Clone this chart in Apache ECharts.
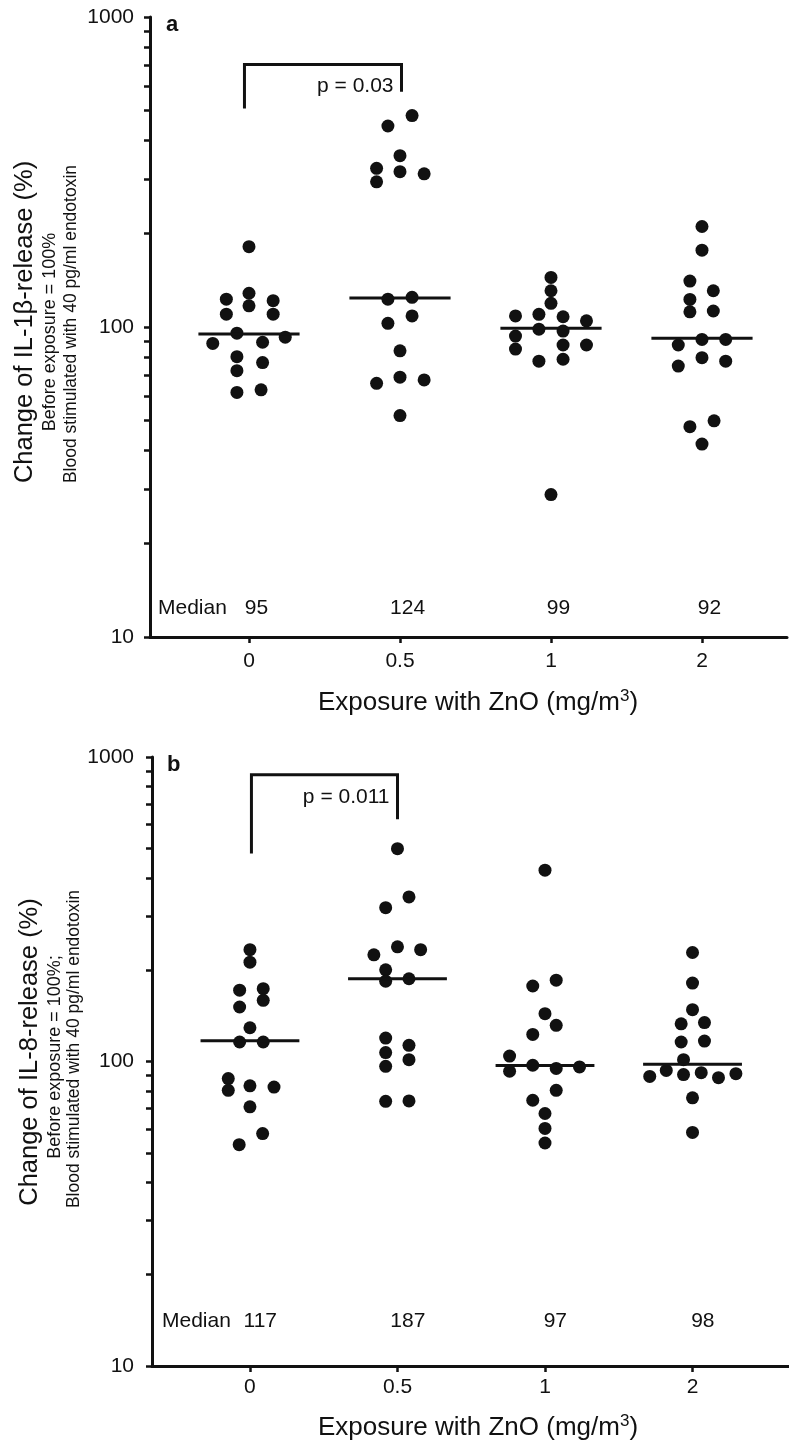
<!DOCTYPE html>
<html>
<head>
<meta charset="utf-8">
<script src="https://cdn.jsdelivr.net/npm/echarts@6/dist/echarts.min.js"></script>
<style>
html,body{margin:0;padding:0;background:#fff;}
#c{width:789px;height:1447px;}
</style>
</head>
<body>
<div id="c"></div>
<script>
// ---------- DATA ----------
const categories = ['0', '0.5', '1', '2'];           // ZnO exposure (mg/m3)
const yTickLabels = [10, 100, 1000];
const yMinorTicks = [10, 20, 30, 40, 50, 60, 70, 80, 90, 100, 200, 300, 400, 500, 600, 700, 800, 900, 1000];

// Panel a: IL-1beta release (%), one array per exposure group
const il1bValues = [
  [181.6, 123, 110, 128.5, 117, 121.6, 110, 88.5, 95.5, 89.3, 92.7, 80.2, 76.8, 72.3, 61.5, 62.7],
  [445, 481, 325, 294, 357, 317, 312, 123, 124.7, 102.8, 108.6, 83.8, 65.8, 68.9, 67.5, 51.8],
  [144.5, 130.9, 119.2, 108.6, 109.9, 107.9, 104.7, 93.5, 98.4, 97, 84.9, 87.5, 87.5, 77.6, 78.7, 28.8],
  [211, 177, 140.6, 130.9, 122.7, 111.9, 112.6, 87.5, 91.2, 91.2, 74.8, 79.6, 77.6, 47.7, 49.8, 41.9]
];
// horizontal jitter of each dot (in category units)
const il1bJitter = [
  [0, -0.15, -0.15, 0, 0, 0.16, 0.16, -0.24, -0.08, 0.09, 0.24, -0.08, 0.09, -0.08, -0.08, 0.08],
  [-0.08, 0.08, -0.155, -0.155, 0, 0, 0.16, -0.08, 0.08, -0.08, 0.08, 0, -0.155, 0, 0.16, 0],
  [0, 0, 0, -0.235, -0.08, 0.08, 0.235, -0.235, -0.08, 0.08, -0.235, 0.08, 0.235, -0.08, 0.08, 0],
  [0, 0, -0.08, 0.075, -0.08, -0.08, 0.075, -0.157, 0, 0.157, -0.157, 0, 0.157, -0.08, 0.08, 0]
];
const il1bMedians = [95, 124, 99, 92];
const il1bBracket = [-0.03, 1.01, 703, 507, 574];   // [fromX, toX, top, leftEnd, rightEnd]
const il1bP = 'p = 0.03';

// Panel b: IL-8 release (%)
const il8Values = [
  [233, 212, 171.5, 173.4, 158.8, 151, 129.1, 115.9, 115.9, 87.9, 80.4, 83.2, 82.4, 71, 58, 53.3],
  [500, 347, 320, 224, 238, 233, 200, 183.6, 187, 119.4, 113, 107, 101.4, 96.4, 74, 74.2],
  [425, 177, 185, 143.6, 131.5, 122.7, 104.2, 92.9, 97.2, 94.9, 96, 80.4, 74.6, 67.5, 60.3, 54],
  [228, 181, 148, 133, 134.2, 115.9, 116.7, 101.4, 89.3, 93.5, 90.6, 91.9, 88.5, 91.2, 76, 58.5]
];
const il8Jitter = [
  [0, 0, -0.07, 0.09, 0.09, -0.07, 0, -0.07, 0.09, -0.147, -0.147, 0, 0.163, 0, 0.086, -0.073],
  [0, 0.078, -0.08, -0.16, 0, 0.157, -0.08, -0.08, 0.078, -0.08, 0.078, -0.08, 0.078, -0.08, -0.08, 0.078],
  [0, -0.083, 0.076, 0, 0.076, -0.083, -0.24, -0.24, -0.083, 0.076, 0.234, 0.076, -0.083, 0, 0, 0],
  [0, 0, 0, -0.077, 0.081, -0.077, 0.081, -0.061, -0.29, -0.178, -0.061, 0.059, 0.176, 0.294, 0, 0]
];
const il8Medians = [117, 187, 97, 98];
const il8Bracket = [0.01, 1.0, 875, 482, 624];
const il8P = 'p = 0.011';

// ---------- LAYOUT / STYLE ----------
const FONT = '"Liberation Sans", Arial, Helvetica, sans-serif';
const INK = '#111111';
const MEDIAN_HALF = 0.335;

const panels = [
  { values: il1bValues, jitter: il1bJitter, medians: il1bMedians, bracket: il1bBracket, p: il1bP,
    grid: { left: 150, top: 17, width: 637, height: 620 }, xMin: -0.6556, xMax: 3.563,
    xLabelMargin: 14, yLabelMargin: 16, medianLabelY: 12.4, medianLabelDx: 0.05, pLabelY: 596 },
  { values: il8Values, jitter: il8Jitter, medians: il8Medians, bracket: il8Bracket, p: il8P,
    grid: { left: 152, top: 757, width: 637, height: 609 }, xMin: -0.664, xMax: 3.654,
    xLabelMargin: 11, yLabelMargin: 18, medianLabelY: 14.05, medianLabelDx: 0.07, pLabelY: 740 }
];

const textStyle = { fontSize: 21, color: INK, fontFamily: FONT, opacity: 1 };
const grids = [], xAxes = [], yAxes = [], series = [];
panels.forEach((P, i) => {
  grids.push(Object.assign({ containLabel: false }, P.grid));
  xAxes.push({
    type: 'value', gridIndex: i, min: P.xMin, max: P.xMax,
    splitLine: { show: false },
    axisLine: { show: true, onZero: false, lineStyle: { color: INK, width: 3 } },
    axisTick: { show: true, customValues: [0, 1, 2, 3], length: 6, lineStyle: { color: INK, width: 2.5 } },
    axisLabel: Object.assign({ show: true, customValues: [0, 1, 2, 3], margin: P.xLabelMargin,
      formatter: v => categories[Math.round(v)] }, textStyle)
  });
  yAxes.push({
    type: 'log', logBase: 10, gridIndex: i, min: 10, max: 1000,
    splitLine: { show: false },
    axisLine: { show: true, onZero: false, lineStyle: { color: INK, width: 3 } },
    axisTick: { show: true, customValues: yMinorTicks, length: 6, lineStyle: { color: INK, width: 2.5 } },
    axisLabel: Object.assign({ show: true, customValues: yTickLabels, margin: P.yLabelMargin,
      formatter: v => String(Math.round(v)) }, textStyle)
  });

  // dots
  const pts = [];
  P.values.forEach((arr, g) => arr.forEach((v, k) => pts.push([g + P.jitter[g][k], v])));
  series.push({
    type: 'scatter', xAxisIndex: i, yAxisIndex: i, data: pts,
    symbol: 'circle', symbolSize: 13, itemStyle: { color: INK, opacity: 1 }, z: 3
  });

  // median lines
  P.medians.forEach((m, g) => {
    series.push({
      type: 'line', xAxisIndex: i, yAxisIndex: i, symbol: 'none',
      data: [[g - MEDIAN_HALF, m], [g + MEDIAN_HALF, m]],
      lineStyle: { color: INK, width: 3, opacity: 1 }, z: 4
    });
  });

  // median labels
  series.push({
    type: 'scatter', xAxisIndex: i, yAxisIndex: i, symbolSize: 0,
    itemStyle: { opacity: 1 },
    data: P.medians.map((m, g) => ({ value: [g + P.medianLabelDx, P.medianLabelY], name: String(m) })),
    label: Object.assign({ show: true, position: 'inside', formatter: p => p.name }, textStyle),
    z: 5
  });

  // significance bracket
  const B = P.bracket;
  series.push({
    type: 'line', xAxisIndex: i, yAxisIndex: i, symbol: 'none',
    data: [[B[0], B[3]], [B[0], B[2]], [B[1], B[2]], [B[1], B[4]]],
    lineStyle: { color: INK, width: 3, join: 'miter', opacity: 1 }, z: 4
  });
  series.push({
    type: 'scatter', xAxisIndex: i, yAxisIndex: i, symbolSize: 0,
    itemStyle: { opacity: 1 },
    data: [{ value: [B[1], P.pLabelY], name: P.p }],
    label: Object.assign({ show: true, position: 'left', distance: 8, formatter: p => p.name }, textStyle),
    z: 5
  });
});

function txt(text, x, y, size, opts) {
  opts = opts || {};
  return {
    type: 'text', x: x, y: y, rotation: opts.rot || 0, z: 10,
    style: Object.assign({
      text: text, fontSize: size, fontFamily: FONT, fill: INK,
      fontWeight: opts.bold ? 'bold' : 'normal',
      align: opts.align || 'center', verticalAlign: 'middle',
      textAlign: opts.align || 'center', textVerticalAlign: 'middle'
    }, opts.extra || {})
  };
}
const R = Math.PI / 2;
const xTitleRich = {
  t: { fontSize: 26, fontFamily: FONT, color: INK, lineHeight: 30, verticalAlign: 'middle' },
  s: { fontSize: 17, fontFamily: FONT, color: INK, lineHeight: 17, verticalAlign: 'top' }
};
const xTitle = '{t|Exposure with ZnO (mg/m}{s|3}{t|)}';

const graphics = [
  txt('a', 166, 25, 22, { bold: true, align: 'left' }),
  txt('b', 167, 765, 22, { bold: true, align: 'left' }),
  txt('Median', 158, 608, 21, { align: 'left' }),
  txt('Median', 162, 1321, 21, { align: 'left' }),
  txt('Change of IL-1β-release (%)', 25, 322, 25.5, { rot: R }),
  txt('Before exposure = 100%', 50, 332, 18, { rot: R }),
  txt('Blood stimulated with 40 pg/ml endotoxin', 71.5, 324, 17.5, { rot: R }),
  txt('Change of IL-8-release (%)', 29.5, 1052, 25.5, { rot: R }),
  txt('Before exposure = 100%;', 55, 1057, 18, { rot: R }),
  txt('Blood stimulated with 40 pg/ml endotoxin', 74.5, 1049, 17.5, { rot: R }),
  { type: 'text', x: 478, y: 703, z: 10,
    style: { text: xTitle, rich: xTitleRich, align: 'center', verticalAlign: 'middle',
             textAlign: 'center', textVerticalAlign: 'middle', fontFamily: FONT, fontSize: 26, fill: INK } },
  { type: 'text', x: 478, y: 1428, z: 10,
    style: { text: xTitle, rich: xTitleRich, align: 'center', verticalAlign: 'middle',
             textAlign: 'center', textVerticalAlign: 'middle', fontFamily: FONT, fontSize: 26, fill: INK } }
];

const chart = echarts.init(document.getElementById('c'), null, { renderer: 'canvas' });
chart.setOption({
  animation: false,
  backgroundColor: '#ffffff',
  grid: grids,
  xAxis: xAxes,
  yAxis: yAxes,
  series: series,
  graphic: { elements: graphics }
});
</script>
</body>
</html>
